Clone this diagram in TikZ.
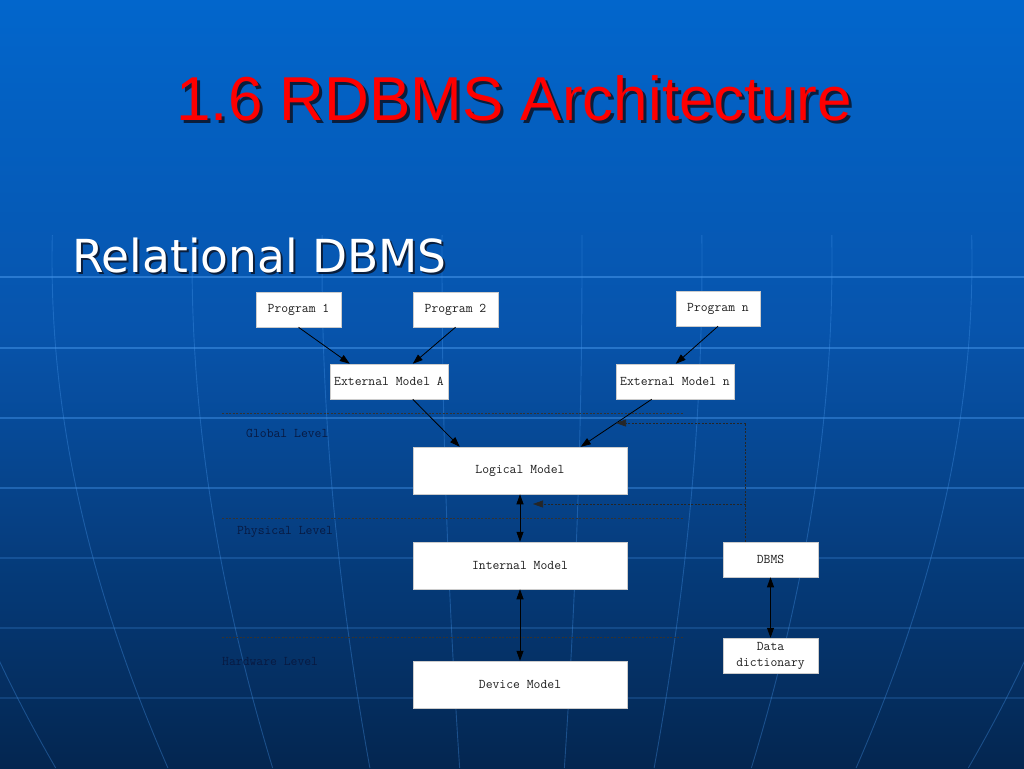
\documentclass[tikz,border=0pt]{standalone}
\usepackage{fontspec}
\usetikzlibrary{arrows.meta,calc}
\newfontfamily\titlefont{Liberation Sans}
\newfontfamily\subfont{DejaVu Sans}
\definecolor{bgtop}{RGB}{2,102,204}
\definecolor{bgmid}{RGB}{7,84,172}
\definecolor{bgbot}{RGB}{4,38,80}
\definecolor{gridc}{RGB}{70,150,235}
\definecolor{lvlc}{RGB}{8,26,66}
\definecolor{boxtext}{RGB}{30,30,30}
\definecolor{tshadow}{RGB}{10,30,60}
\newcommand{\shadowtext}[4]{\rlap{\hspace{#1}\raisebox{-#1}{\textcolor{#2}{#4}}}\textcolor{#3}{#4}}
\tikzset{
  box/.style={draw=gray!40,line width=0.5pt,fill=white,inner sep=0pt,text=boxtext,font=\ttfamily\fontsize{13.3}{16}\selectfont,align=center},
  conn/.style={line width=0.8pt,draw=black,-{Triangle[length=10pt,width=7pt]}},
  dconn/.style={line width=0.8pt,draw=black,{Triangle[length=10pt,width=7pt]}-{Triangle[length=10pt,width=7pt]}},
  fb/.style={line width=0.6pt,draw=black!85,dash pattern=on 2pt off 1.5pt,-{Triangle[length=10pt,width=7pt]}},
  lvl/.style={dash pattern=on 2pt off 1.5pt,line width=0.6pt,draw=black!80},
  lvltext/.style={anchor=west,text=lvlc,font=\ttfamily\fontsize{13.3}{16}\selectfont,inner sep=0pt},
  globe/.style={draw=gridc,line width=0.9pt,opacity=0.35},
  hline/.style={draw=gridc,line width=1.4pt,opacity=0.45}
}
\begin{document}
\begin{tikzpicture}[x=1pt,y=-1pt]
\useasboundingbox (0,0) rectangle (1024,768);
% background
\shade[top color=bgtop,bottom color=bgmid] (0,0) rectangle (1024,330.5);
\shade[top color=bgmid,bottom color=bgbot] (0,330) rectangle (1024,768);
% globe lines
\foreach \yy/\op in {277/0.55,348/0.5,418/0.45,488/0.4,558/0.25,628/0.22,698/0.2}
  \draw[hline,opacity=\op] (0,\yy) -- (1024,\yy);
\foreach \d in {-760,-610,-460,-320,-190,-70,70,190,320,460,610,760}
  \draw[globe] plot[domain=235:768,variable=\t,samples=40,smooth] ({512+\d*cos(deg((\t-260)/700))},\t);
% titles
\node[anchor=base,font=\titlefont\fontsize{62}{70}\selectfont,inner sep=0pt] (title) at (514,120) {\shadowtext{3pt}{tshadow}{red}{1.6 RDBMS Architecture}};
\node[anchor=base west,font=\subfont\fontsize{45.5}{52}\selectfont,inner sep=0pt] (sub) at (72,272) {\shadowtext{2pt}{tshadow}{white}{Relational DBMS}};
% level lines
\coordinate (l1a) at (222,413); \coordinate (l1b) at (684,413);
\coordinate (l2a) at (222,518); \coordinate (l2b) at (684,518);
\coordinate (l3a) at (222,637); \coordinate (l3b) at (684,637);
\draw[lvl] (l1a) -- (l1b);
\draw[lvl] (l2a) -- (l2b);
\draw[lvl] (l3a) -- (l3b);
\node[lvltext] (gl) at (246,433) {Global Level};
\node[lvltext] (pl) at (237,532) {Physical Level};
\node[lvltext] (hl) at (222,661) {Hardware Level};
% boxes
\node[box,minimum width=85pt,minimum height=35pt] (p1) at (298.5,309.5) {Program 1};
\node[box,minimum width=85pt,minimum height=35pt] (p2) at (455.5,309.5) {Program 2};
\node[box,minimum width=84pt,minimum height=35pt] (pn) at (718,308.5) {Program n};
\node[box,minimum width=118pt,minimum height=35pt] (ea) at (389,381.5) {External Model A};
\node[box,minimum width=118pt,minimum height=35pt] (en) at (675,381.5) {External Model n};
\node[box,minimum width=214pt,minimum height=47pt] (lm) at (520,470.5) {Logical Model};
\node[box,minimum width=214pt,minimum height=47pt] (im) at (520,565.5) {Internal Model};
\node[box,minimum width=214pt,minimum height=47pt] (dm) at (520,684.5) {Device Model};
\node[box,minimum width=95pt,minimum height=35pt] (dbms) at (770.5,559.5) {DBMS};
\node[box,minimum width=95pt,minimum height=35pt] (dd) at (770.5,655.5) {Data\\dictionary};
% connectors
\draw[conn] (p1.south) -- ($(ea.north west)+(20,0)$);
\draw[conn] (p2.south) -- ($(ea.north west)+(83,0)$);
\draw[conn] (pn.south) -- ($(en.north west)+(60,0)$);
\draw[conn] ($(ea.south west)+(83,0)$) -- ($(lm.north west)+(47,0)$);
\draw[conn] ($(en.south west)+(36,0)$) -- ($(lm.north west)+(168,0)$);
\draw[dconn] (lm.south) -- (im.north);
\draw[dconn] (im.south) -- (dm.north);
\draw[dconn] (dbms.south) -- (dd.north);
% DBMS feedback
\coordinate (t1) at (616,423);
\coordinate (t2) at (533,504);
\coordinate (dtop) at ($(dbms.north west)+(23,0)$);
\draw[fb] (dtop) |- (t1);
\draw[fb] (dtop |- t2) -- (t2);
\end{tikzpicture}
\end{document}
